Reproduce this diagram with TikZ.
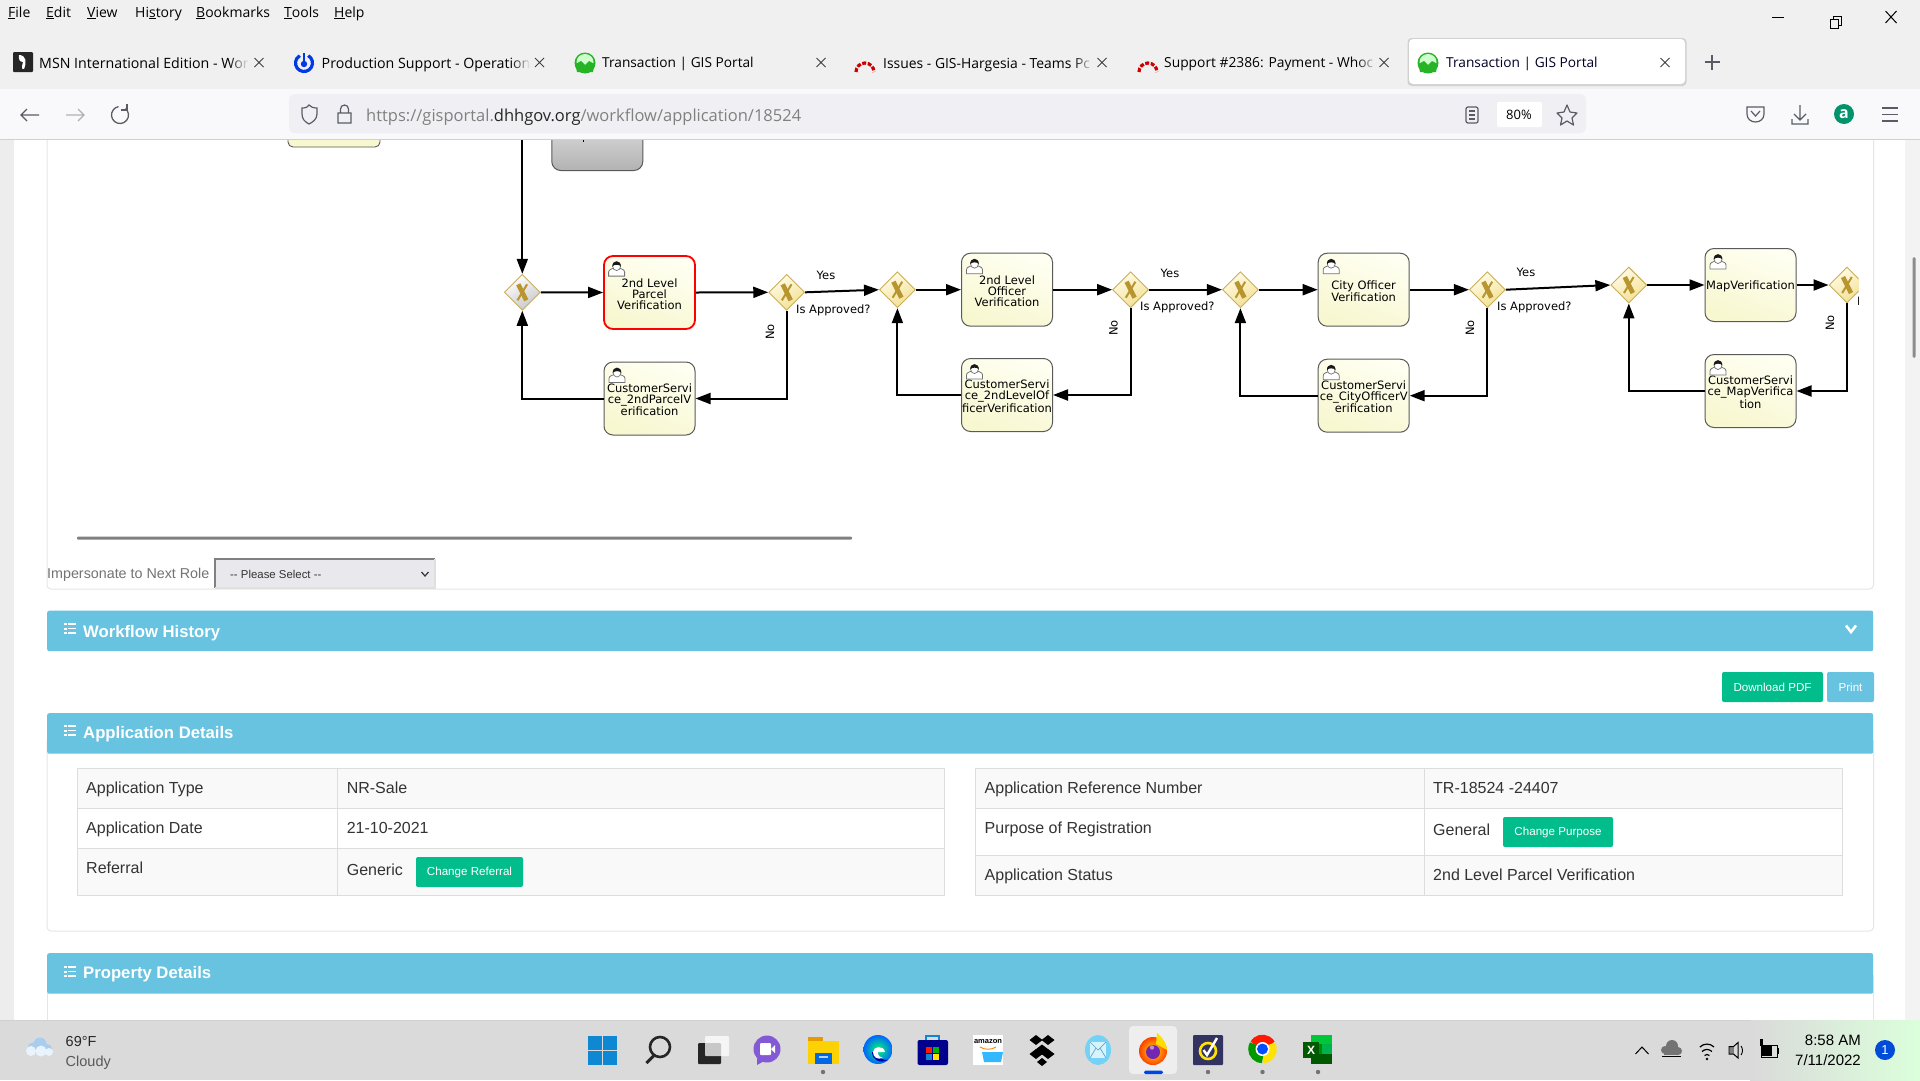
\documentclass[tikz,border=0pt]{standalone}
\usepackage{fontspec}
\usetikzlibrary{arrows.meta,shapes.geometric,calc}
\setmainfont{Liberation Sans}
\newfontfamily\uifont{Open Sans}
\newfontfamily\bpmfont{DejaVu Sans}
\newfontfamily\webfont{Liberation Sans}
\definecolor{chromebg}{HTML}{F0F0F0}
\definecolor{toolbg}{HTML}{F9F9FB}
\definecolor{urlbg}{HTML}{F0F0F4}
\definecolor{sepline}{HTML}{CFCFD8}
\definecolor{iconc}{HTML}{5B5B66}
\definecolor{barblue}{HTML}{67C3E0}
\definecolor{greenbtn}{HTML}{00BD8B}
\definecolor{panelline}{HTML}{E6E6E6}
\definecolor{cellline}{HTML}{DDDDDD}
\definecolor{cellbg}{HTML}{F9F9F9}
\definecolor{gutter}{HTML}{EDEDED}
\definecolor{tbar}{HTML}{DADADA}
\definecolor{webtxt}{HTML}{333333}
\definecolor{taskline}{HTML}{5A5A5A}
\definecolor{gold}{HTML}{B8952F}
\definecolor{goldedge}{HTML}{C9AE5A}
\definecolor{tasktop}{HTML}{FFFFF2}
\definecolor{taskbot}{HTML}{F7F7D0}
\definecolor{gwl}{HTML}{FFFCE8}
\definecolor{gwr}{HTML}{F3E093}
\definecolor{selbg}{HTML}{E9E9ED}
\definecolor{cloudb}{HTML}{A8CDEE}
\definecolor{cloudw}{HTML}{EAF3FB}
\newcommand{\ft}{\rule{0pt}{11.2pt}}
\tikzset{
  uitxt/.style={anchor=base west,yshift={-0.36*#1*1pt},inner sep=0pt,text=black,font=\uifont\fontsize{#1}{#1}\selectfont},
  webt/.style={anchor=base west,yshift={-0.36*#1*1pt},inner sep=0pt,text=webtxt,font=\webfont\fontsize{#1}{#1}\selectfont},
  bartxt/.style={anchor=base west,yshift=-5pt,inner sep=0pt,text=white,font=\webfont\bfseries\fontsize{16.7}{16.7}\selectfont},
  barbox/.style={anchor=north west,fill=barblue,minimum width=1826pt,minimum height=40.5pt,inner sep=0pt,rounded corners=2pt},
  btn/.style={fill=greenbtn,text=white,rounded corners=2pt,inner sep=0pt,font=\webfont\fontsize{11.6}{11.6}\selectfont},
  task/.style={rectangle,rounded corners=9pt,draw=taskline,line width=1pt,minimum width=91pt,minimum height=73pt,inner sep=0pt,align=center,
     text=black,font=\bpmfont\fontsize{11.5}{11}\selectfont,top color=tasktop,bottom color=taskbot,shading angle=-20},
  activetask/.style={task,draw=red,line width=1.8pt},
  gateway/.style={diamond,aspect=1,draw=goldedge,line width=.9pt,minimum width=36pt,minimum height=36pt,inner sep=0pt,
     left color=gwl,right color=gwr,shading angle=30},
  gatewaygrey/.style={gateway,left color=white,right color=black!22!white,shading angle=30},
  flow/.style={line width=2pt,black,-{Triangle[length=15pt,width=11pt]}},
  lbl/.style={inner sep=0pt,text=black,font=\bpmfont\fontsize{11.5}{11}\selectfont},
  user/.pic={
    \fill[white] (0,15) -- (0,11) .. controls (0,8) and (4,8) .. (5,7) -- (11,7) .. controls (12,8) and (16,8) .. (16,11) -- (16,15) -- cycle;
    \draw[black!55,line width=.8pt] (0,15) -- (0,11) .. controls (0,8) and (4,8) .. (5,7) -- (11,7) .. controls (12,8) and (16,8) .. (16,11) -- (16,15) -- cycle;
    \draw[black!55,fill=white,line width=.7pt] (8,5) ellipse (4 and 4.5);
    \fill[black!90] (3.8,5.5) .. controls (3.2,-1.5) and (12.8,-1.5) .. (12.2,5.5) .. controls (11.2,3) and (5,3) .. (3.8,5.5) -- cycle;
  },
  gwx/.pic={
    \draw[line width=2pt,gold,line cap=butt] (4.8,-8) -- (-4.8,8);
    \draw[line width=4.6pt,gold,line cap=butt] (-4,-8) -- (4,8);
  }
}
\newcommand{\tabclose}[2]{\draw[black!75,line width=.9pt] (#1-4.5,#2-4.5) -- (#1+4.5,#2+4.5) (#1+4.5,#2-4.5) -- (#1-4.5,#2+4.5);}
\newcommand{\fadeout}[3]{\foreach \i in {0,...,9}{\fill[chromebg,opacity=\i*.1] ({#1+\i*2},#2-10) rectangle ({#1+\i*2+2.05},#2+10);}\fill[chromebg] ({#1+20},#2-10) rectangle (#3,#2+10);}
\newcommand{\redmine}[2]{\draw[red!80!black,line width=3.2pt,dash pattern=on 4pt off 1.6pt] (#1-9,#2+8) arc[start angle=180,end angle=360,radius=9];}
\newcommand{\gisglobe}[2]{\fill[green!65!black!85!white] (#1,#2) circle (10.5);\fill[green!20!white] (#1,#2-1) ellipse (8.5 and 8);\fill[green!65!black!85!white] (#1-9.5,#2+1) -- (#1-4,#2-2) -- (#1,#2+2) -- (#1+4,#2-2) -- (#1+9.5,#2+1) -- (#1+8,#2+9) -- (#1-8,#2+9) -- cycle;}
\newcommand{\listicon}[2]{\foreach \d in {0,4.5,9}{\fill[white] (#1,#2+\d) rectangle (#1+2.5,#2+\d+2);\fill[white] (#1+4,#2+\d) rectangle (#1+12,#2+\d+1.6);}}
\newcommand{\tdot}[1]{\fill[black!55] (#1,1072) circle (2.2);}
\begin{document}
\begin{tikzpicture}[x=1pt,y=-1pt]
\useasboundingbox (0,0) rectangle (1920,1080);
\fill[white] (0,0) rectangle (1920,1080);
% ---- page
\fill[gutter] (0,130) rectangle (14,1020);
\fill[gutter!70!white] (1905,130) rectangle (1920,1020);
\fill[black!45,rounded corners=1.5pt] (1912.5,257) rectangle (1915.5,358);
\draw[panelline,line width=1pt,rounded corners=4pt] (47,130) -- (47,589) -- (1873.5,589) -- (1873.5,130);
\draw[panelline,line width=1pt,rounded corners=4pt] (47,740) -- (47,931) -- (1873.5,931) -- (1873.5,740);
\draw[panelline,line width=1pt] (47,975) -- (47,1020) (1873.5,975) -- (1873.5,1020);
% ---- diagram
\fill[taskbot,rounded corners=5pt] (288,120) rectangle (380,147);
\draw[taskline,line width=.9pt,rounded corners=5pt] (288,120) -- (288,147) -- (380,147) -- (380,120);
\node[anchor=south,rectangle,rounded corners=9pt,draw=taskline,line width=1pt,minimum width=91pt,minimum height=60pt,inner sep=0pt,top color=black!10,bottom color=black!30] (greytask) at (597.3,171) {};
\fill[black] (583,139) rectangle (584,141.5);
\coordinate (topin) at (522.3,130);
\node[gatewaygrey] (gwa) at (522.3,292.3) {};
\node[activetask] (taska) at (649.5,292.5) {\ft 2nd Level\\Parcel\\Verification};
\node[task] (csa) at (649.5,398.5) {\ft CustomerServi\\ce\_2ndParcelV\\erification};
\node[gateway] (gwb) at (786.7,292.3) {};
\node[gateway] (gwc) at (897.4,289.7) {};
\node[task] (taskb) at (1007,289.7) {\ft 2nd Level\\Officer\\Verification};
\node[task] (csb) at (1007,395) {\ft CustomerServi\\ce\_2ndLevelOf\\ficerVerification};
\node[gateway] (gwd) at (1130.6,289.7) {};
\node[gateway] (gwe) at (1240.4,289.7) {};
\node[task] (taskc) at (1363.7,289.7) {\ft City Officer\\Verification};
\node[task] (csc) at (1363.7,395.7) {\ft CustomerServi\\ce\_CityOfficerV\\erification};
\node[gateway] (gwf) at (1487.4,289.7) {};
\node[gateway] (gwg) at (1628.8,285) {};
\node[task] (taskd) at (1750.5,285) {\rule{0pt}{11pt}MapVerification};
\node[task] (csd) at (1750.5,391) {\ft CustomerServi\\ce\_MapVerifica\\tion};
\begin{scope}
\clip (1700,150) rectangle (1858.5,450);
\node[gateway] (gwh) at (1847,285) {};
\pic at (1847,285) {gwx};
\node[lbl,anchor=west] (isapph) at (1857,302) {Is Approved?};
\end{scope}
\foreach \g in {gwa,gwb,gwc,gwd,gwe,gwf,gwg}{\pic at (\g) {gwx};}
\foreach \t in {taska,csa,taskb,csb,taskc,csc,taskd,csd}{\pic at ($(\t.north west)+(5.5,6)$) {user};}
% connectors
\draw[flow] (topin) -- (gwa.north);
\draw[flow] (gwa.east) -- (taska.west);
\draw[flow] (taska.east) -- (gwb.west);
\draw[flow] (gwb.east) -- (gwc.west);
\draw[flow] (gwc.east) -- (taskb.west);
\draw[flow] (taskb.east) -- (gwd.west);
\draw[flow] (gwd.east) -- (gwe.west);
\draw[flow] (gwe.east) -- (taskc.west);
\draw[flow] (taskc.east) -- (gwf.west);
\draw[flow] (gwf.east) -- (gwg.west);
\draw[flow] (gwg.east) -- (taskd.west);
\draw[flow] (taskd.east) -- (gwh.west);
\draw[flow] (gwb.south) |- (csa.east);
\draw[flow] (csa.west) -| (gwa.south);
\draw[flow] (gwd.south) |- (csb.east);
\draw[flow] (csb.west) -| (gwc.south);
\draw[flow] (gwf.south) |- (csc.east);
\draw[flow] (csc.west) -| (gwe.south);
\draw[flow] (gwh.south) |- (csd.east);
\draw[flow] (csd.west) -| (gwg.south);
% labels
\node[lbl] (yesb) at (826,275) {Yes};
\node[lbl] (yesd) at (1170,273) {Yes};
\node[lbl] (yesf) at (1526,272) {Yes};
\node[lbl,anchor=west] (isappb) at (796,310) {Is Approved?};
\node[lbl,anchor=west] (isappd) at (1140,307) {Is Approved?};
\node[lbl,anchor=west] (isappf) at (1497,307) {Is Approved?};
\node[lbl,rotate=90] (nob) at (770,332) {No};
\node[lbl,rotate=90] (nod) at (1113.6,328) {No};
\node[lbl,rotate=90] (nof) at (1470,328) {No};
\node[lbl,rotate=90] (noh) at (1830,323) {No};
% ---- below the diagram
\fill[black!50,rounded corners=1pt] (77,536.5) rectangle (852,539.5);
\node[webt=14.3,text=black!55] (imp) at (47,573) {Impersonate to Next Role};
\fill[selbg] (215,559) rectangle (435,588);
\draw[black!50,line width=1.3pt] (215,588) -- (215,559) -- (435,559);
\draw[black!12,line width=1.3pt] (215,588) -- (435,588) -- (435,559);
\node[webt=11.4,text=black!80] (sel) at (230,574) {-- Please Select --};
\draw[black!80,line width=1.2pt] (421.5,572) -- (425,576) -- (428.5,572);
\node[barbox] (barwf) at (47,610.5) {};
\listicon{64}{623}
\node[bartxt] (twf) at (83,632) {Workflow History};
\draw[white,line width=2.6pt] (1846,625.5) -- (1851,632) -- (1856,625.5);
\node[btn,minimum width=101pt,minimum height=30pt] (bdl) at (1772.5,687) {Download PDF};
\node[btn,fill=barblue,minimum width=47pt,minimum height=30pt] (bpr) at (1850.5,687) {Print};
\node[barbox] (barad) at (47,713) {};
\listicon{64}{725}
\node[bartxt] (tad) at (83,733) {Application Details};
\node[barbox] (barpd) at (47,953) {};
\listicon{64}{966}
\node[bartxt] (tpd) at (83,973) {Property Details};
% left table
\fill[cellbg] (77,768) rectangle (944.5,808);
\fill[cellbg] (77,848) rectangle (944.5,895);
\draw[cellline,line width=1pt] (77,768) rectangle (944.5,895) (77,808) -- (944.5,808) (77,848) -- (944.5,848) (337,768) -- (337,895);
\node[webt=16] (l1) at (86,788) {Application Type};
\node[webt=16] (l2) at (86,828) {Application Date};
\node[webt=16] (l3) at (86,868) {Referral};
\node[webt=16] (v1) at (346.6,788) {NR-Sale};
\node[webt=16] (v2) at (346.6,828) {21-10-2021};
\node[webt=16] (v3) at (346.6,870) {Generic};
\node[btn,minimum width=107pt,minimum height=30pt] (bref) at (469.5,872) {Change Referral};
% right table
\fill[cellbg] (975,768) rectangle (1842,808);
\fill[cellbg] (975,855) rectangle (1842,895);
\draw[cellline,line width=1pt] (975,768) rectangle (1842,895) (975,808) -- (1842,808) (975,855) -- (1842,855) (1424,768) -- (1424,895);
\node[webt=16] (r1) at (984.5,788) {Application Reference Number};
\node[webt=16] (r2) at (984.5,828) {Purpose of Registration};
\node[webt=16] (r3) at (984.5,875) {Application Status};
\node[webt=16] (s1) at (1433,788) {TR-18524 -24407};
\node[webt=16] (s2) at (1433,830) {General};
\node[webt=16] (s3) at (1433,875) {2nd Level Parcel Verification};
\node[btn,minimum width=110pt,minimum height=30pt] (bpur) at (1558,832) {Change Purpose};
% ---- browser chrome
\fill[chromebg] (0,0) rectangle (1920,89);
\fill[toolbg] (0,89) rectangle (1920,139);
\draw[sepline,line width=1.2pt] (0,139.2) -- (1920,139.2);
\node[uitxt=14] (mfile) at (8,12) {\underline{F}ile};
\node[uitxt=14] (medit) at (46,12) {\underline{E}dit};
\node[uitxt=14] (mview) at (87,12) {\underline{V}iew};
\node[uitxt=14] (mhist) at (135,12) {Hi\underline{s}tory};
\node[uitxt=14] (mbook) at (196,12) {\underline{B}ookmarks};
\node[uitxt=14] (mtool) at (284,12) {\underline{T}ools};
\node[uitxt=14] (mhelp) at (334,12) {\underline{H}elp};
\draw[black,line width=1pt] (1772,17) -- (1784,17);
\draw[black,line width=1pt] (1830,19) rectangle (1838,28) (1833,19) -- (1833,16) -- (1841,16) -- (1841,25) -- (1838,25);
\draw[black,line width=1pt] (1885.5,11) -- (1896.5,23) (1896.5,11) -- (1885.5,23);
% tabs
\fill[black!85,rounded corners=1pt] (13,52) rectangle (33,72);
\fill[white] (19,55) .. controls (26,55) and (27,62) .. (24,69) .. controls (21,70) and (22,66) .. (23,62) .. controls (20,62) and (18,59) .. (19,55) -- cycle;
\node[uitxt=14.2] (tab1) at (39,63) {MSN International Edition - Wor};
\fadeout{228}{63}{250}
\tabclose{259}{62.5}
\draw[blue!75!cyan!90!black,line width=3.2pt] (304,63) ++(300:8.5) arc[start angle=300,end angle=600,radius=8.5];
\fill[blue!75!cyan!90!black] (304,64) circle (3.2);
\fill[blue!75!cyan!90!black] (302.7,53) rectangle (305.3,62);
\node[uitxt=14.2] (tab2) at (321.5,63) {Production Support - Operation};
\fadeout{510}{63}{532}
\tabclose{539.5}{62.5}
\gisglobe{585}{63}
\node[uitxt=13.7] (tab3) at (602,63) {Transaction | GIS Portal};
\tabclose{821}{62.5}
\redmine{865}{64}
\node[uitxt=13.9] (tab4) at (883,63) {Issues - GIS-Hargesia - Teams Pc};
\fadeout{1073}{63}{1095}
\tabclose{1102}{62.5}
\redmine{1148}{64}
\node[uitxt=13.8] (tab5) at (1164,63) {Support \#2386: Payment - Whoc};
\fadeout{1356}{63}{1378}
\tabclose{1384}{62.5}
\fill[black!18,rounded corners=4pt] (1407.5,38) rectangle (1686.5,86);
\fill[white,rounded corners=4pt] (1409,39) rectangle (1685,84);
\gisglobe{1428}{63}
\node[uitxt=13.7,text=black!85!blue] (tab6) at (1446,63) {Transaction | GIS Portal};
\tabclose{1665}{62.5}
\draw[iconc,line width=1.1pt] (1704.5,62) -- (1719.5,62) (1712,54.5) -- (1712,69.5);
% toolbar
\draw[iconc,line width=1.2pt] (21,115) -- (39,115) (27,109) -- (21,115) -- (27,121);
\draw[black!30,line width=1.2pt] (66,115) -- (84,115) (78,109) -- (84,115) -- (78,121);
\draw[iconc,line width=1.3pt] (120,115) ++(310:8.5) arc[start angle=310,end angle=620,radius=8.5];
\draw[iconc,line width=1.3pt] (127,104) -- (127,110) -- (121,110);
\fill[urlbg,rounded corners=6pt] (289,94) rectangle (1586,133);
\draw[iconc,line width=1.2pt] (302,108) .. controls (306,108) and (308,107) .. (309,105) .. controls (311,107) and (313,108) .. (317,108) -- (317,114) .. controls (317,119) and (313,122) .. (309,124) .. controls (305,122) and (302,119) .. (302,114) -- cycle;
\draw[iconc,line width=1.2pt] (338,113) rectangle (351,123) (340.5,113) -- (340.5,109) arc[start angle=180,end angle=360,radius=4] -- (348.5,113);
\node[uitxt=16.5,text=black!50] (url) at (366,116) {https://gisportal.\textcolor{black!85}{dhhgov.org}/workflow/application/18524};
\draw[iconc,line width=1.2pt,rounded corners=2pt] (1466,107) rectangle (1478,123);
\draw[iconc,line width=1.2pt] (1469,111) -- (1475,111) (1469,115) -- (1475,115) (1469,119) -- (1475,119);
\fill[white,rounded corners=2pt] (1497,102) rectangle (1542,127);
\node[uitxt=13] (zoomp) at (1506,115) {80\%};
\draw[iconc,line width=1.2pt,line join=round] (1567,105) -- (1570,112) -- (1577,113) -- (1572,118) -- (1573.5,125) -- (1567,121) -- (1560.5,125) -- (1562,118) -- (1557,113) -- (1564,112) -- cycle;
\draw[iconc,line width=1.2pt] (1747,107) -- (1764,107) -- (1764,114) .. controls (1764,119) and (1760,122) .. (1755.5,122) .. controls (1751,122) and (1747,119) .. (1747,114) -- cycle;
\draw[iconc,line width=1.2pt] (1751,111) -- (1755.5,116) -- (1760,111);
\draw[iconc,line width=1.2pt] (1800,105) -- (1800,120) (1794,114) -- (1800,120) -- (1806,114) (1792,119) -- (1792,124) -- (1808,124) -- (1808,119);
\node[circle,fill=teal!85!green,text=white,inner sep=0pt,minimum size=20pt,font=\uifont\bfseries\fontsize{16}{16}\selectfont] (acct) at (1844,114) {a};
\draw[iconc,line width=1.2pt] (1882,108) -- (1898,108) (1882,114.5) -- (1898,114.5) (1882,121) -- (1898,121);
% ---- taskbar
\fill[tbar] (0,1020) rectangle (1920,1080);
\shade[left color=tbar,right color=green!14!white] (1750,1020) rectangle (1920,1080);
\draw[black!18,line width=1pt] (0,1020) -- (1750,1020);
\fill[cloudb] (33,1048) circle (5.5) (40,1044) circle (6.5) (47,1049) circle (5);
\fill[cloudw] (31,1051) circle (5) (41,1051) circle (5.5) (49,1052) circle (4);
\node[webt=14.5,text=black!85] (wtemp) at (65.5,1041) {69°F};
\node[webt=14.5,text=black!65] (wcloud) at (65.5,1061) {Cloudy};
% start
\foreach \a/\b in {588/1036,603/1036,588/1051,603/1051}{\fill[cyan!70!blue] (\a,\b) rectangle (\a+14,\b+14);}
\draw[black!85,line width=2.6pt] (660,1047) circle (10);
\draw[black!85,line width=3pt] (654,1055.5) -- (646.5,1063);
\fill[black!85,rounded corners=1pt] (698,1043) rectangle (721,1064);
\fill[white,opacity=.75,rounded corners=1pt] (705,1036) rectangle (729,1056);
\fill[violet!50!blue!65!white] (767,1049) circle (13.5);
\fill[violet!50!blue!65!white] (757,1056) -- (757,1065) -- (766,1060) -- cycle;
\fill[white,rounded corners=1pt] (760,1043) rectangle (771,1055);
\fill[white] (771,1049) -- (775,1045) -- (775,1053) -- cycle;
\fill[orange!65!yellow!90!black] (808,1037) rectangle (823,1044);
\fill[yellow!70!orange] (808,1041) rectangle (839,1064);
\fill[blue!55!cyan!90!black] (815,1053) rectangle (832,1064);
\fill[white,opacity=.7] (819,1056) rectangle (828,1057.5);
\shade[inner color=green!60!cyan,outer color=blue!60!cyan] (878,1049.5) circle (14.5);
\fill[blue!70!black] (872,1052) .. controls (872,1060) and (880,1064) .. (888,1060) .. controls (880,1060) and (878,1056) .. (878,1052) -- cycle;
\fill[white] (873,1052) .. controls (873,1046) and (884,1045) .. (885,1052) -- (878,1052) .. controls (878,1056) and (881,1058) .. (883,1058) .. controls (877,1060) and (873,1057) .. (873,1052) -- cycle;
\fill[blue!55!black,rounded corners=2pt] (917.5,1040) rectangle (948,1065);
\draw[cyan!70!blue,line width=1.4pt] (926,1040) -- (926,1036) -- (939,1036) -- (939,1040);
\fill[red!80!orange] (926,1047) rectangle (932,1053);\fill[green!70!black] (933,1047) rectangle (939,1053);
\fill[cyan!70!blue] (926,1054) rectangle (932,1060);\fill[yellow!85!orange] (933,1054) rectangle (939,1060);
\fill[white] (973,1035) rectangle (1003,1065);
\node[inner sep=0pt,font=\webfont\bfseries\fontsize{7.5}{7.5}\selectfont] (amz) at (988,1042) {amazon};
\draw[orange,line width=.9pt] (980,1047) .. controls (985,1050) and (991,1050) .. (996,1047);
\fill[blue!35!cyan!80!white] (982,1052) -- (1003,1052) -- (1001,1062) -- (984,1062) -- cycle;
\foreach \a/\b in {1036/1040,1048/1040,1042/1049.5,1036/1054,1048/1054}{\fill[black] (\a,\b-5) -- (\a+6.5,\b) -- (\a,\b+5) -- (\a-6.5,\b) -- cycle;}
\fill[black] (1042,1058) -- (1047,1062) -- (1042,1066) -- (1037,1062) -- cycle;
\fill[cyan!55!white] (1098,1050) ellipse (13 and 15);
\fill[white!85!cyan] (1090,1042) rectangle (1106,1058);
\draw[cyan!55!gray,line width=.7pt] (1090,1042) -- (1098,1050) -- (1106,1042) (1090,1058) -- (1096,1048) (1106,1058) -- (1100,1048);
\fill[white!55!tbar,rounded corners=4pt] (1129,1026) rectangle (1177,1074);
\fill[blue!70!cyan!90!black,rounded corners=1.5pt] (1144,1070.5) rectangle (1163,1074);
\shade[inner color=yellow!80!orange,outer color=red!50!orange] (1153,1051) circle (14);
\fill[yellow!80!orange] (1157,1033) .. controls (1163,1038) and (1167,1044) .. (1167,1050) -- (1156,1044) -- cycle;
\fill[violet!70!blue!85!white] (1153,1052) circle (7);
\fill[white!55!violet] (1152,1047.5) circle (2.2);
\fill[black!70!blue!60!gray,rounded corners=1pt] (1193,1035) rectangle (1223,1065);
\draw[yellow!85!orange,line width=2.6pt] (1208,1051) circle (8);
\draw[white,line width=2.4pt] (1203.5,1050) -- (1207,1055) -- (1217,1038);
\draw[red!80!orange,line width=7.5pt] (1262.5,1049) ++(-150:10.5) arc[start angle=-150,end angle=-30,radius=10.5];
\draw[yellow!85!orange,line width=7.5pt] (1262.5,1049) ++(-30:10.5) arc[start angle=-30,end angle=90,radius=10.5];
\draw[green!60!black,line width=7.5pt] (1262.5,1049) ++(90:10.5) arc[start angle=90,end angle=210,radius=10.5];
\fill[white] (1262.5,1049) circle (7);
\fill[blue!70!cyan] (1262.5,1049) circle (5.5);
\fill[green!55!teal] (1311,1035) rectangle (1332,1044);
\fill[green!55!black] (1311,1044) rectangle (1322,1054);
\fill[green!40!teal] (1322,1044) rectangle (1332,1054);
\fill[green!35!black] (1311,1054) rectangle (1332,1064);
\node[fill=green!35!black,minimum size=16pt,inner sep=0pt,text=white,font=\webfont\bfseries\fontsize{12}{12}\selectfont] (xl) at (1311,1050) {X};
\foreach \x in {823,1208,1262.5,1318}{\tdot{\x}}
% tray
\draw[black,line width=1pt] (1635.5,1054) -- (1642,1047) -- (1648.5,1054);
\fill[black!55] (1665,1050) circle (4) (1672,1046) circle (6) (1678,1051) circle (4);
\fill[black!55] (1664,1051) rectangle (1679,1055);
\draw[black,line width=.9pt] (1662,1056) -- (1681,1056);
\draw[black,line width=1.2pt] (1699.9,1047) arc[start angle=225,end angle=315,radius=10] (1702,1051.5) arc[start angle=225,end angle=315,radius=7] (1704.5,1055.5) arc[start angle=225,end angle=315,radius=3.5];
\fill[black] (1707,1059) circle (1.4);
\fill[black!50!white] (1730,1046) rectangle (1734,1054);
\draw[black,line width=1pt] (1729,1046.5) -- (1733.5,1046.5) -- (1738,1042.5) -- (1738,1058) -- (1733.5,1054) -- (1729,1054) -- cycle;
\draw[black,line width=.9pt] (1741,1046) .. controls (1743,1049) and (1743,1052) .. (1741,1055);
\draw[black,line width=1pt] (1761,1045) rectangle (1777,1057);
\fill[black] (1762,1046) rectangle (1772,1056);
\fill[black] (1777,1048) rectangle (1779,1054);
\fill[black] (1760,1039) rectangle (1763,1046);
\node[webt=15,text=black,anchor=base east] (clock) at (1861,1040) {8:58 AM};
\node[webt=15,text=black,anchor=base east] (cdate) at (1861,1060) {7/11/2022};
\node[circle,fill=blue!65!cyan!85!black,text=white,inner sep=0pt,minimum size=20pt,font=\webfont\fontsize{13}{13}\selectfont] (badge) at (1885,1050) {1};
\end{tikzpicture}
\end{document}
